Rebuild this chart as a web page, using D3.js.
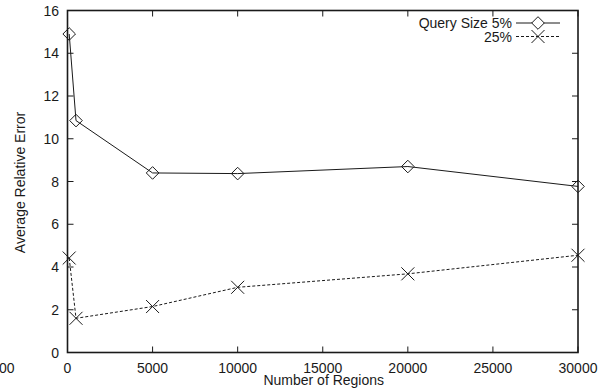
<!DOCTYPE html>
<html>
<head>
<meta charset="utf-8">
<script src="https://cdn.jsdelivr.net/npm/d3@7"></script>
<style>
  body { margin: 0; background: #fff; }
  svg { display: block; font-family: "Liberation Sans", Arial, sans-serif; }
</style>
</head>
<body>
<svg id="chart" width="601" height="391"></svg>
<script>
// number of regions (x) for both series
const regions = [100, 500, 5000, 10000, 20000, 30000];
// average relative error, query size 5%
const err5 = [14.9, 10.85, 8.4, 8.37, 8.7, 7.77];
// average relative error, query size 25%
const err25 = [4.42, 1.6, 2.15, 3.05, 3.68, 4.55];
const xTicks = [0, 5000, 10000, 15000, 20000, 25000, 30000];
const yTicks = [0, 2, 4, 6, 8, 10, 12, 14, 16];

let svg = d3.select("#chart");
let margin = {top: 10.5, right: 23, bottom: 38.5, left: 67.5};
let width = +svg.attr("width") - margin.left - margin.right;
let height = +svg.attr("height") - margin.top - margin.bottom;

let x = d3.scaleLinear().domain([0, 30000]).range([0, width]);
let y = d3.scaleLinear().domain([0, 16]).range([height, 0]);

let g = svg.append("g")
    .attr("transform", `translate(${margin.left},${margin.top})`);

const tickLen = 6;
const ink = "#1a1a1a";
const fs = "14px";

// ticks on all four sides, pointing inward
g.selectAll(".xt").data(xTicks).enter().append("path")
    .attr("d", d => `M${x(d)},${height}v${-tickLen}M${x(d)},0v${tickLen}`)
    .attr("stroke", ink).attr("stroke-width", 1);
g.selectAll(".yt").data(yTicks).enter().append("path")
    .attr("d", d => `M0,${y(d)}h${tickLen}M${width},${y(d)}h${-tickLen}`)
    .attr("stroke", ink).attr("stroke-width", 1);

// frame
g.append("rect")
    .attr("width", width).attr("height", height)
    .attr("fill", "none").attr("stroke", ink).attr("stroke-width", 1.6);

// tick labels
g.selectAll(".xl").data(xTicks).enter().append("text")
    .attr("x", d => x(d)).attr("y", height + 20)
    .attr("text-anchor", "middle")
    .style("font-size", fs).attr("fill", ink)
    .text(d => d);
g.selectAll(".yl").data(yTicks).enter().append("text")
    .attr("x", -8.5).attr("y", d => y(d)).attr("dy", "0.36em")
    .attr("text-anchor", "end")
    .style("font-size", fs).attr("fill", ink)
    .text(d => d);

// axis titles
g.append("text")
    .attr("x", width / 2 + 1).attr("y", height + 32.5)
    .attr("text-anchor", "middle")
    .style("font-size", fs).attr("fill", ink)
    .text("Number of Regions");
g.append("text")
    .attr("transform", `translate(${-42.5},${height / 2 + 1}) rotate(-90)`)
    .attr("text-anchor", "middle")
    .style("font-size", fs).attr("fill", ink)
    .text("Average Relative Error");

// fragment of the neighbouring figure on the left edge
svg.append("text")
    .attr("x", 14.5).attr("y", margin.top + height + 20)
    .attr("text-anchor", "end")
    .style("font-size", fs).attr("fill", ink)
    .text("30000");

let line = d3.line().x(d => x(d[0])).y(d => y(d[1]));
let s5 = regions.map((r, i) => [r, err5[i]]);
let s25 = regions.map((r, i) => [r, err25[i]]);

const diamond = "M0,-6.3L6.3,0L0,6.3L-6.3,0Z";
const cross = "M-6.5,-6.5L6.5,6.5M-6.5,6.5L6.5,-6.5";

g.append("path").datum(s5)
    .attr("fill", "none").attr("stroke", ink).attr("stroke-width", 1)
    .attr("d", line);
g.selectAll(".m5").data(s5).enter().append("path")
    .attr("transform", d => `translate(${x(d[0])},${y(d[1])})`)
    .attr("d", diamond)
    .attr("fill", "none").attr("stroke", ink).attr("stroke-width", 1);

g.append("path").datum(s25)
    .attr("fill", "none").attr("stroke", ink).attr("stroke-width", 1)
    .attr("stroke-dasharray", "3,2")
    .attr("d", line);
g.selectAll(".m25").data(s25).enter().append("path")
    .attr("transform", d => `translate(${x(d[0])},${y(d[1])})`)
    .attr("d", cross)
    .attr("fill", "none").attr("stroke", ink).attr("stroke-width", 1);

// legend
let leg = g.append("g").attr("transform", `translate(${width - 66},0)`);
leg.append("text").attr("x", 0).attr("y", 12.5).attr("dy", "0.36em")
    .attr("text-anchor", "end").style("font-size", fs).attr("fill", ink)
    .text("Query Size 5%");
leg.append("path").attr("d", "M4,12.5H48")
    .attr("stroke", ink).attr("stroke-width", 1);
leg.append("path").attr("transform", "translate(26,12.5)").attr("d", diamond)
    .attr("fill", "#fff").attr("stroke", ink).attr("stroke-width", 1);
leg.append("text").attr("x", 0).attr("y", 26).attr("dy", "0.36em")
    .attr("text-anchor", "end").style("font-size", fs).attr("fill", ink)
    .text("25%");
leg.append("path").attr("d", "M4,26H48")
    .attr("stroke", ink).attr("stroke-width", 1).attr("stroke-dasharray", "3,2");
leg.append("path").attr("transform", "translate(26,26)").attr("d", cross)
    .attr("fill", "none").attr("stroke", ink).attr("stroke-width", 1);
</script>
</body>
</html>
